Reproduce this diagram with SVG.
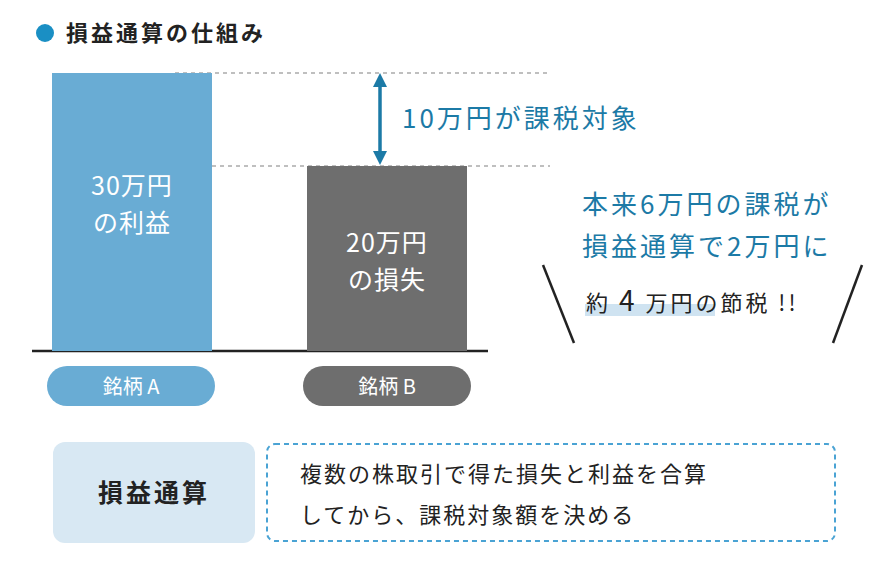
<svg xmlns="http://www.w3.org/2000/svg" width="888" height="566" viewBox="0 0 888 566">
<defs>
<style>
text{font-family:"Noto Sans CJK JP","Noto Sans",sans-serif}
.w{fill:#fff;font-size:25px;letter-spacing:1px}
.b{fill:#1c7aa6;font-size:26px;letter-spacing:3px}
.k{fill:#222;font-size:22px}
.dash{stroke:#aaa;stroke-width:1.5;stroke-dasharray:4 4;fill:none}
</style>
<marker id="ah" viewBox="0 0 10 10" refX="5" refY="5" markerWidth="4" markerHeight="4" orient="auto-start-reverse"><path d="M0,0L10,5L0,10z" fill="#1c7aa6"/></marker>
</defs>
<rect width="888" height="566" fill="#fff"/>
<g id="title"><circle cx="45" cy="33" r="9" fill="#1a8fc4"/><text x="66" y="41" font-size="22" font-weight="bold" fill="#222" letter-spacing="3">損益通算の仕組み</text></g>
<g id="connectors">
<line class="dash" x1="175" y1="73" x2="550" y2="73"/>
<line class="dash" x1="212" y1="166" x2="550" y2="166"/>
<line x1="380" y1="80" x2="380" y2="158" stroke="#1c7aa6" stroke-width="3.5" marker-start="url(#ah)" marker-end="url(#ah)"/>
<line x1="32" y1="351" x2="488" y2="351" stroke="#222" stroke-width="2.5"/>
<line x1="543" y1="265" x2="574" y2="343" stroke="#222" stroke-width="2.5"/>
<line x1="862" y1="265" x2="833" y2="343" stroke="#222" stroke-width="2.5"/>
</g>
<g id="barA"><rect x="52" y="73" width="160" height="278" fill="#69acd4"/><text class="w" x="132" y="195" text-anchor="middle">30万円</text><text class="w" x="132" y="232" text-anchor="middle">の利益</text></g>
<g id="barB"><rect x="307" y="166" width="160" height="185" fill="#6e6e6e"/><text class="w" x="387" y="252" text-anchor="middle">20万円</text><text class="w" x="387" y="289" text-anchor="middle">の損失</text></g>
<g id="label10"><text class="b" x="402" y="128" letter-spacing="4">10万円が課税対象</text></g>
<g id="saving">
<text class="b" x="582" y="214">本来6万円の課税が</text>
<text class="b" x="582" y="256">損益通算で2万円に</text>
<rect x="585" y="304" width="130" height="12" fill="#cfe3f1"/>
<text class="k" x="586" y="311" letter-spacing="3">約 <tspan font-size="28">4</tspan> 万円の節税 !!</text>
</g>
<g id="tagA"><rect x="47" y="366" width="168" height="40" rx="20" fill="#69acd4"/><text x="131" y="394" text-anchor="middle" font-size="20" fill="#fff">銘柄 A</text></g>
<g id="tagB"><rect x="303" y="366" width="168" height="40" rx="20" fill="#6e6e6e"/><text x="387" y="394" text-anchor="middle" font-size="20" fill="#fff">銘柄 B</text></g>
<g id="term"><rect x="53" y="442" width="202" height="101" rx="12" fill="#d8e8f3"/><text x="154" y="502" text-anchor="middle" font-size="25" font-weight="bold" fill="#222" letter-spacing="3">損益通算</text></g>
<g id="def"><rect x="267" y="444" width="568" height="97" rx="8" fill="none" stroke="#4aa3d4" stroke-width="2" stroke-dasharray="5 4"/>
<text class="k" x="300" y="482" letter-spacing="2">複数の株取引で得た損失と利益を合算</text>
<text class="k" x="300" y="523" letter-spacing="2">してから、課税対象額を決める</text></g>
</svg>
